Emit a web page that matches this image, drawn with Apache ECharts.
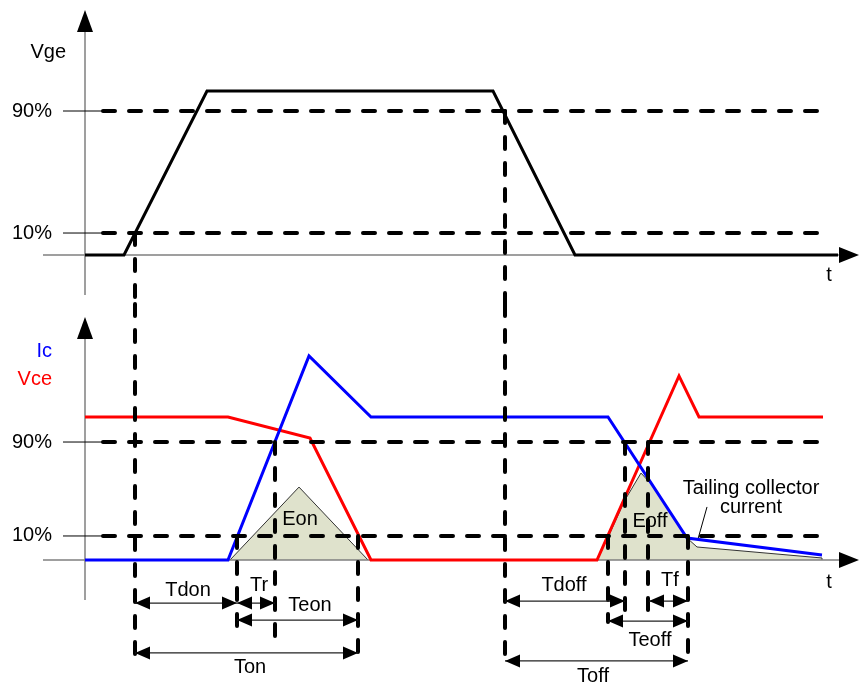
<!DOCTYPE html>
<html><head><meta charset="utf-8">
<script src="https://cdn.jsdelivr.net/npm/echarts@6/dist/echarts.min.js"></script>
<style>html,body{margin:0;padding:0;background:#fff}#c{width:859px;height:685px}</style>
</head><body><div id="c"></div>
<script>
// ---------------- DATA ----------------
// time axis (arbitrary units), t = 0 at the vertical axes
const tRange = [-42, 774];

// top panel: gate voltage Vge (% of full level)
const topRange = [-30, 155];
const vgeT = [0, 39, 122, 408, 490, 753];
const vgeV = [0, 0, 100, 100, 0, 0];
const topLevelNames = ['90%', '10%'];
const topLevelValues = [87.8, 13.4];

// bottom panel: collector current Ic and collector-emitter voltage Vce (% of steady level)
const botRange = [-88, 179];
const vceT = [0, 143, 225, 286, 512, 594, 614, 738];
const vceV = [100, 100, 85.3, 0, 0, 128.7, 100, 100];
const icT = [0, 143, 224, 286, 523, 602, 737];
const icV = [0, 0, 142.7, 100, 100, 15.4, 3.5];
const botLevelNames = ['90%', '10%'];
const botLevelValues = [82.5, 16.8];

// switching energy areas
const eonT = [145, 214, 283];
const eonV = [0, 51, 0];
const eoffT = [512, 525, 540, 556, 567, 602, 612, 737, 737];
const eoffV = [0, 18.9, 42, 60.8, 52.4, 15.4, 9.1, 1.4, 0];

// timing markers (vertical dashed lines)
const topMarkT = [50, 420];
const topMarkFrom = [13.4, 87.8];
const botMarkT = [50, 420, 152, 190, 273, 523, 540, 563, 603];
const botMarkFrom = [179, 179, 16.8, 82.5, 16.8, 16.8, 82.5, 82.5, 16.8];
const botMarkTo = [-68.5, -72, -47.6, -53.8, -67.1, -43.4, -36.4, -37.1, -72];

// timing intervals
const intervalNames = ['Tdon', 'Tr', 'Teon', 'Ton', 'Tdoff', 'Tf', 'Teoff', 'Toff'];
const intervalStart = [50, 152, 152, 50, 420, 564, 523, 420];
const intervalEnd = [152, 190, 273, 273, 540, 603, 603, 603];
const intervalLevel = [-30.1, -30.1, -42, -65, -28.7, -28.7, -42.7, -70.6];
const intervalLabelT = [103, 174, 225, 165, 479, 585, 565, 508];
const intervalLabelV = [-21, -17.5, -31.5, -75.5, -17.5, -14, -56, -81.8];

// other texts
const topTexts = ['Vge', 't'];
const topTextT = [-19, 744];
const topTextV = [123.2, -12.2];
const botTexts = ['Ic', 'Vce', 'Eon', 'Eoff', 'Tailing collector', 'current', 't'];
const botTextT = [-33, -33, 215, 565, 666, 666, 744];
const botTextV = [145.5, 125.9, 28, 26.6, 49.7, 36.4, -15.4];
const tailPointer = [622, 37.1, 613, 14.7];

// axes (start point, end point incl. arrow tip)
const topAxes = [[0, -24.4, 0, 149.4], [-42, 0, 774, 0]];
const botAxes = [[0, -28, 0, 169.9], [-42, 0, 774, 0]];
const levelLineStart = 18, levelLineEnd = 738, levelTickStart = -22;

// ---------------- STYLES / HELPERS ----------------
const FONT = '20px "Liberation Sans", Arial, sans-serif';
const zip = (a, b) => a.map((x, i) => [x, b[i]]);
const DASH = { stroke: '#000', lineWidth: 4, lineDash: [12, 14], lineCap: 'round' };

function head(tip, ux, uy, len, wid) {
  const bx = tip[0] - ux * len, by = tip[1] - uy * len;
  const px = -uy, py = ux;
  return [[tip[0], tip[1]], [bx + px * wid / 2, by + py * wid / 2], [bx - px * wid / 2, by - py * wid / 2]];
}

function segSeries(g, data, style, z) {
  return {
    type: 'custom', xAxisIndex: g, yAxisIndex: g, z: z, silent: true, animation: false,
    data: data,
    renderItem: function (params, api) {
      const p1 = api.coord([api.value(0), api.value(1)]);
      const p2 = api.coord([api.value(2), api.value(3)]);
      return { type: 'line', shape: { x1: p1[0], y1: p1[1], x2: p2[0], y2: p2[1] }, style: Object.assign({}, style) };
    }
  };
}

function axisSeries(g, data) {
  return {
    type: 'custom', xAxisIndex: g, yAxisIndex: g, z: 2, silent: true, animation: false,
    data: data,
    renderItem: function (params, api) {
      const p1 = api.coord([api.value(0), api.value(1)]);
      const p2 = api.coord([api.value(2), api.value(3)]);
      const dx = p2[0] - p1[0], dy = p2[1] - p1[1];
      const L = Math.sqrt(dx * dx + dy * dy);
      const vertical = Math.abs(dy) > Math.abs(dx);
      const len = vertical ? 22 : 20, wid = 16;
      const ux = dx / L, uy = dy / L;
      return {
        type: 'group', children: [
          { type: 'line', shape: { x1: p1[0], y1: p1[1], x2: p2[0] - ux * len * 0.5, y2: p2[1] - uy * len * 0.5 },
            style: { stroke: '#7f7f7f', lineWidth: 1.5 } },
          { type: 'polygon', shape: { points: head(p2, ux, uy, len, wid) }, style: { fill: '#000' } }
        ]
      };
    }
  };
}

function textSeries(g, tArr, vArr, texts, styleFor, z) {
  return {
    type: 'custom', xAxisIndex: g, yAxisIndex: g, z: z, silent: true, animation: false,
    data: zip(tArr, vArr),
    renderItem: function (params, api) {
      const p = api.coord([api.value(0), api.value(1)]);
      const s = styleFor(texts[params.dataIndex], params.dataIndex);
      return { type: 'text', x: p[0], y: p[1],
        style: { text: texts[params.dataIndex], fill: s.color || '#000', font: FONT, align: s.align || 'center', verticalAlign: 'middle' } };
    }
  };
}

function levelSeries(g, values) {
  return [
    segSeries(g, values.map(v => [levelLineStart, v, levelLineEnd, v]), DASH, 4),
    segSeries(g, values.map(v => [levelTickStart, v, levelLineStart, v]), { stroke: '#000', lineWidth: 1 }, 2)
  ];
}

function lineSeries(g, data, color, width, z, area) {
  const s = {
    type: 'line', xAxisIndex: g, yAxisIndex: g, data: data, symbol: 'none', z: z,
    clip: false, silent: true, animation: false,
    lineStyle: { color: color, width: width, join: 'miter' }
  };
  if (area) s.areaStyle = { color: area, opacity: 1 };
  return s;
}

const leftAligned = { '90%': 1, '10%': 1, 'Vge': 1, 'Ic': 1, 'Vce': 1 };
const colorOf = { 'Ic': '#0000ff', 'Vce': '#ff0000' };
const styleFor = (txt) => ({ align: leftAligned[txt] ? 'right' : 'center', color: colorOf[txt] });

// ---------------- CHART ----------------
const chart = echarts.init(document.getElementById('c'), null, { renderer: 'canvas' });
const xAxisBase = { type: 'value', min: tRange[0], max: tRange[1], show: false };
const option = {
  backgroundColor: '#fff',
  animation: false,
  grid: [
    { left: 43, width: 816, top: 0.8, height: 303.4, outerBoundsMode: 'none' },
    { left: 43, width: 816, top: 304.03, height: 381.81, outerBoundsMode: 'none' }
  ],
  xAxis: [Object.assign({ gridIndex: 0 }, xAxisBase), Object.assign({ gridIndex: 1 }, xAxisBase)],
  yAxis: [
    { gridIndex: 0, type: 'value', min: topRange[0], max: topRange[1], show: false },
    { gridIndex: 1, type: 'value', min: botRange[0], max: botRange[1], show: false }
  ],
  series: [
    // axes
    axisSeries(0, topAxes),
    axisSeries(1, botAxes),
    // energy areas
    lineSeries(1, zip(eonT, eonV), '#333', 1, 1, '#dfe2cc'),
    lineSeries(1, zip(eoffT, eoffV), '#333', 1, 1, '#dfe2cc'),
    // waveforms
    lineSeries(0, zip(vgeT, vgeV), '#000', 3, 3),
    lineSeries(1, zip(vceT, vceV), '#ff0000', 3, 3),
    lineSeries(1, zip(icT, icV), '#0000ff', 3, 3),
    // threshold levels
    ...levelSeries(0, topLevelValues),
    ...levelSeries(1, botLevelValues),
    textSeries(0, topLevelValues.map(() => -33), topLevelValues, topLevelNames, styleFor, 2),
    textSeries(1, botLevelValues.map(() => -33), botLevelValues, botLevelNames, styleFor, 2),
    // vertical timing markers
    segSeries(0, topMarkT.map((t, i) => [t, topMarkFrom[i], t, topRange[0]]), DASH, 4),
    segSeries(1, botMarkT.map((t, i) => [t, botMarkFrom[i], t, botMarkTo[i]]), DASH, 4),
    // pointer for tailing current
    segSeries(1, [tailPointer], { stroke: '#000', lineWidth: 1 }, 2),
    // interval arrows
    {
      type: 'custom', xAxisIndex: 1, yAxisIndex: 1, z: 5, silent: true, animation: false,
      data: intervalNames.map((n, i) => [intervalStart[i], intervalLevel[i], intervalEnd[i]]),
      renderItem: function (params, api) {
        const p1 = api.coord([api.value(0), api.value(1)]);
        const p2 = api.coord([api.value(2), api.value(1)]);
        return {
          type: 'group', children: [
            { type: 'line', shape: { x1: p1[0], y1: p1[1], x2: p2[0], y2: p2[1] }, style: { stroke: '#222', lineWidth: 1.2 } },
            { type: 'polygon', shape: { points: head(p1, -1, 0, 15, 13) }, style: { fill: '#000' } },
            { type: 'polygon', shape: { points: head(p2, 1, 0, 15, 13) }, style: { fill: '#000' } }
          ]
        };
      }
    },
    textSeries(1, intervalLabelT, intervalLabelV, intervalNames, styleFor, 2),
    // other texts
    textSeries(0, topTextT, topTextV, topTexts, styleFor, 2),
    textSeries(1, botTextT, botTextV, botTexts, styleFor, 2)
  ]
};
chart.setOption(option);
</script></body></html>
